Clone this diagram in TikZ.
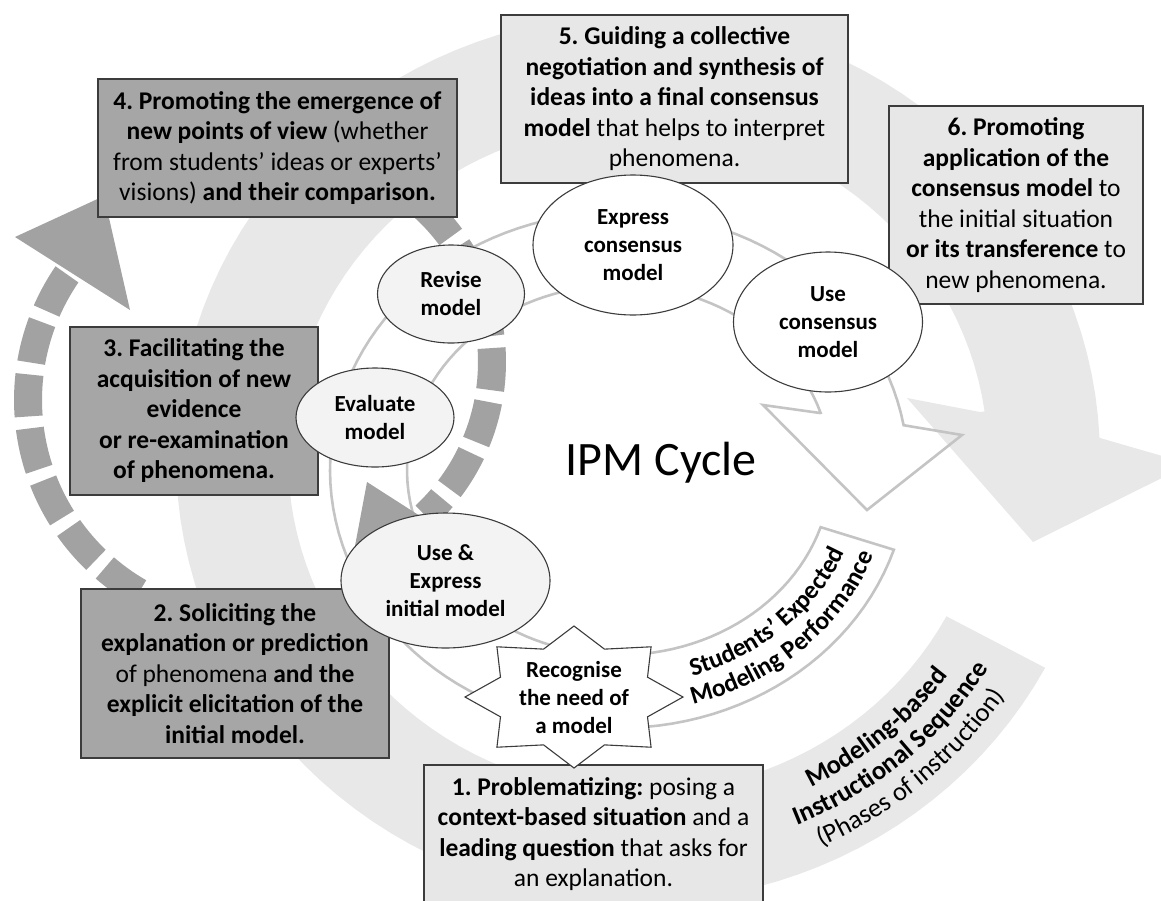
\documentclass[tikz,border=0pt]{standalone}
\usepackage{fontspec}
\setmainfont{Carlito}
\frenchspacing
\usetikzlibrary{shapes.geometric,decorations.text}
\definecolor{ink}{RGB}{60,60,60}
\definecolor{cBand}{RGB}{232,232,232}
\definecolor{cRing}{RGB}{196,196,196}
\definecolor{cDash}{RGB}{162,162,162}
\definecolor{cDark}{RGB}{166,166,166}
\definecolor{cLight}{RGB}{231,231,231}
\definecolor{cOval}{RGB}{243,243,243}
\newcommand{\phasefont}{\fontsize{25.5}{30.5}\selectfont}
\newcommand{\ovalfont}{\bfseries\fontsize{23}{28}\selectfont}
\newcommand{\ringfont}{\fontsize{25.5}{25.5}\selectfont}
\newcommand{\bandfont}{\fontsize{26.5}{26.5}\selectfont}

\begin{document}
\begin{tikzpicture}[
  x=1pt, y=-1pt,
  phase/.style={draw=ink, line width=1.3pt, align=center, inner sep=0pt, font=\phasefont},
  darkphase/.style={phase, fill=cDark},
  lightphase/.style={phase, fill=cLight},
  oval/.style={ellipse, draw=ink, line width=1.1pt, align=center, inner sep=0pt, font=\ovalfont},
  ringline/.style={draw=cRing, line width=2.6pt, line join=miter},
  dashband/.style={draw=cDash, line width=28pt, dash pattern=on 42pt off 12pt},
  bandtext/.style={decorate, decoration={text along path, text align=center, text={#1}}},
]
\useasboundingbox (0,0) rectangle (1161,900);
\clip (0,0) rectangle (1161,900);

% ---- centres of the circular bands ----
\coordinate (seqC) at (638,458);
\coordinate (ringC) at (619,470);
\coordinate (loopC) at (250,400);
\coordinate (backC) at (282,362);

% ---- outer band: instructional sequence ----
\begin{scope}[shift={(seqC)}]
  \fill[cBand] plot[domain=28.2:357.4, samples=120, variable=\t] (\t:462 and 444)
    -- (552,6) -- (395,84) -- (269,-60) -- (342,-46)
    -- plot[domain=352:28.2, samples=120, variable=\t] (\t:350 and 335) -- cycle;
\end{scope}

% ---- inner band: expected performance ----
\begin{scope}[shift={(ringC)}]
  \draw[ringline] plot[domain=18:350, samples=120, variable=\t] (\t:289 and 258)
    -- (343,-35) -- (248,40) -- (144,-65) -- (201,-57)
    -- plot[domain=342:18, samples=120, variable=\t] (\t:212 and 185) -- cycle;
\end{scope}

% ---- dashed loops ----
\begin{scope}[shift={(loopC)}]
  \draw[dashband] plot[domain=120:216, samples=60, variable=\t] (\t:222);
\end{scope}
\fill[cDash] (15,237) -- (104,196) -- (130,310) -- cycle;
\begin{scope}[shift={(backC)}]
  \draw[dashband] plot[domain=-48:47, samples=60, variable=\t] (\t:210);
\end{scope}
\fill[cDash] (367,482) -- (352,562) -- (470,548) -- cycle;

% ---- band labels ----
\begin{scope}[shift={(ringC)}]
  \path[bandtext={|\ringfont\bfseries|Students’ Expected}] plot[domain=80:14, samples=60, variable=\t] (\t:244 and 216);
  \path[bandtext={|\ringfont\bfseries|Modeling Performance}] plot[domain=80:14, samples=60, variable=\t] (\t:272 and 244);
\end{scope}
\begin{scope}[shift={(seqC)}]
  \path[bandtext={|\bandfont\bfseries|Modeling-based}] plot[domain=71:28.2, samples=60, variable=\t] (\t:384 and 369);
  \path[bandtext={|\bandfont\bfseries|Instructional Sequence}] plot[domain=71:28.2, samples=60, variable=\t] (\t:413 and 398);
  \path[bandtext={|\bandfont|(Phases of instruction)}] plot[domain=71:28.2, samples=60, variable=\t] (\t:442 and 427);
\end{scope}

% ---- the six phases of instruction ----
\node[lightphase, minimum width=339pt, minimum height=138pt] (ph1) at (593.5,834) {%
  \textbf{1. Problematizing:} posing a\\
  \textbf{context-based situation} and a\\
  \textbf{leading question} that asks for\\
  an explanation.};
\node[darkphase, minimum width=308pt, minimum height=169pt] (ph2) at (235,673.5) {%
  \textbf{2. Soliciting the}\\
  \textbf{explanation or prediction}\\
  of phenomena \textbf{and the}\\
  \textbf{explicit elicitation of the}\\
  \textbf{initial model.}};
\node[darkphase, minimum width=248pt, minimum height=168pt, font=\phasefont\bfseries] (ph3) at (194,411) {%
  3. Facilitating the\\
  acquisition of new\\
  evidence\\
  or re-examination\\
  of phenomena.};
\node[darkphase, minimum width=359pt, minimum height=138pt] (ph4) at (277.5,148) {%
  \textbf{4. Promoting the emergence of}\\
  \textbf{new points of view} (whether\\
  from students’ ideas or experts’\\
  visions) \textbf{and their comparison.}};
\node[lightphase, minimum width=347pt, minimum height=168pt] (ph5) at (674.5,99) {%
  \textbf{5. Guiding a collective}\\
  \textbf{negotiation and synthesis of}\\
  \textbf{ideas into a final consensus}\\
  \textbf{model} that helps to interpret\\
  phenomena.};
\node[lightphase, minimum width=254pt, minimum height=198pt] (ph6) at (1016,205) {%
  \textbf{6. Promoting}\\
  \textbf{application of the}\\
  \textbf{consensus model} to\\
  the initial situation\\
  \textbf{or its transference} to\\
  new phenomena.};

% ---- expected modeling performance ----
\node[oval, fill=cOval, minimum width=209pt, minimum height=135pt] (useinit) at (445.5,580.5) {Use \&\\Express\\initial model};
\node[oval, fill=cOval, minimum width=158pt, minimum height=99pt] (evaluate) at (375,417.5) {Evaluate\\model};
\node[oval, fill=cOval, minimum width=147pt, minimum height=98pt] (revise) at (451,294) {Revise\\model};
\node[oval, fill=white, minimum width=200pt, minimum height=140pt] (express) at (633,245) {Express\\consensus\\model};
\node[oval, fill=white, minimum width=189pt, minimum height=140pt] (usecons) at (828,322) {Use\\consensus\\model};

% ---- the starting star ----
\begin{scope}[shift={(574,697)}]
  \draw[draw=ink, line width=1.1pt, fill=white] (0:109 and 71)
    \foreach \k in {1,...,15} { -- (\k*22.5:{109*(1-0.27*isodd(\k))} and {71*(1-0.27*isodd(\k))}) } -- cycle;
\end{scope}
\node[font=\ovalfont, align=center, inner sep=0pt] (recog) at (574,698) {Recognise\\the need of\\a model};

\node[font=\fontsize{48}{48}\selectfont, anchor=base, inner sep=0pt] (ipm) at (661,475) {IPM Cycle};

\end{tikzpicture}
\end{document}
